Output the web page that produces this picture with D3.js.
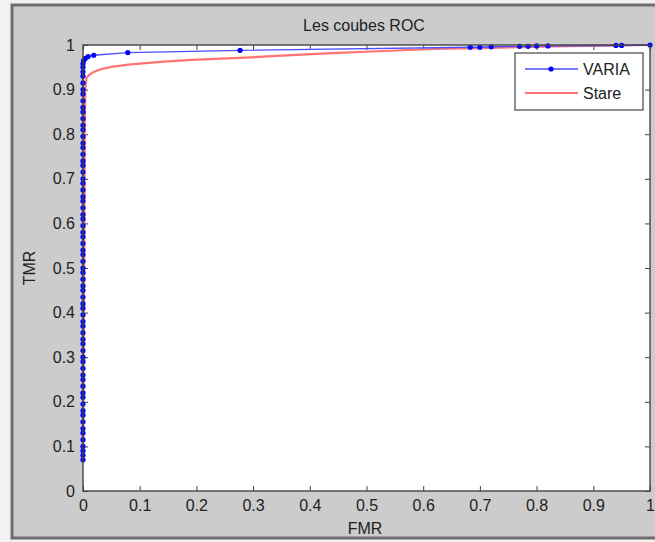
<!DOCTYPE html>
<html>
<head>
<meta charset="utf-8">
<script src="https://cdn.jsdelivr.net/npm/d3@7"></script>
<style>
  body { margin: 0; background: #f2f2f2; }
  text { font-family: "Liberation Sans", Arial, sans-serif; fill: #222; }
</style>
</head>
<body>
<div id="chart"></div>
<script>
// VARIA points lying on FMR = 0
let variaVerticalTMR = [0.07, 0.08, 0.09, 0.1, 0.115, 0.13, 0.14, 0.155, 0.17, 0.18, 0.195, 0.21, 0.22, 0.235,
  0.25, 0.26, 0.275, 0.29, 0.3, 0.315, 0.33, 0.34, 0.355, 0.37, 0.38, 0.395, 0.41, 0.42, 0.435, 0.45,
  0.46, 0.475, 0.49, 0.5, 0.515, 0.53, 0.54, 0.555, 0.57, 0.58, 0.595, 0.61, 0.62, 0.635, 0.65, 0.66,
  0.675, 0.69, 0.7, 0.715, 0.73, 0.74, 0.755, 0.77, 0.78, 0.795, 0.81, 0.82, 0.835, 0.85, 0.86, 0.875,
  0.89, 0.9, 0.915, 0.93, 0.94, 0.95, 0.958]
// VARIA points after it leaves the axis
let variaTailFMR = [0.001, 0.004, 0.009, 0.019, 0.079, 0.277, 0.683, 0.7, 0.72, 0.77, 0.785, 0.8, 0.82, 0.94, 0.95, 1]
let variaTailTMR = [0.965, 0.97, 0.974, 0.977, 0.983, 0.988, 0.995, 0.995, 0.996, 0.997, 0.997, 0.998, 0.998, 0.999, 0.999, 1]

let stareFMR = [0, 0.002, 0.003, 0.004, 0.006, 0.01, 0.018, 0.03, 0.05, 0.08, 0.136, 0.2, 0.277, 0.35, 0.44, 0.52, 0.617, 0.7, 0.79, 0.88, 1]
let stareTMR = [0.07, 0.5, 0.8, 0.9, 0.925, 0.932, 0.939, 0.945, 0.951, 0.956, 0.962, 0.967, 0.971, 0.976, 0.982, 0.986, 0.991, 0.993, 0.996, 0.998, 1]

let ticks = [0, 0.1, 0.2, 0.3, 0.4, 0.5, 0.6, 0.7, 0.8, 0.9, 1]

let svgWidth = 655
let svgHeight = 542

const svg = d3.select("#chart").append("svg")
    .attr("width", svgWidth)
    .attr("height", svgHeight)

// figure window
svg.append("rect")
    .attr("x", 12).attr("y", 5)
    .attr("width", 660).attr("height", 533)
    .attr("fill", "#cccccc")
    .attr("stroke", "#6e6e6e")
    .attr("stroke-width", 3)

const plotLeft = 83, plotRight = 650, plotTop = 45, plotBottom = 491

const x = d3.scaleLinear().domain([0, 1]).range([plotLeft, plotRight])
const y = d3.scaleLinear().domain([0, 1]).range([plotBottom, plotTop])

svg.append("rect")
    .attr("x", plotLeft).attr("y", plotTop)
    .attr("width", plotRight - plotLeft).attr("height", plotBottom - plotTop)
    .attr("fill", "white")

// axes with inward ticks on all four sides
function styleAxis(g) {
    g.select(".domain").remove()
    g.selectAll("line").attr("stroke", "#444")
    g.selectAll("text").attr("font-size", 16).attr("fill", "#333")
        .style("font-family", "'Liberation Sans', Arial, sans-serif")
}

svg.append("g")
    .attr("transform", `translate(0,${plotBottom})`)
    .call(d3.axisBottom(x).tickValues(ticks).tickFormat(d3.format("")).tickSizeInner(-5).tickPadding(9))
    .call(styleAxis)

svg.append("g")
    .attr("transform", `translate(${plotLeft},0)`)
    .call(d3.axisLeft(y).tickValues(ticks).tickFormat(d3.format("")).tickSizeInner(-5).tickPadding(8))
    .call(styleAxis)

svg.append("g")
    .attr("transform", `translate(0,${plotTop})`)
    .call(d3.axisTop(x).tickValues(ticks).tickFormat("").tickSizeInner(-5))
    .call(styleAxis)

svg.append("g")
    .attr("transform", `translate(${plotRight},0)`)
    .call(d3.axisRight(y).tickValues(ticks).tickFormat("").tickSizeInner(-5))
    .call(styleAxis)

let stare = stareFMR.map((d, i) => [d, stareTMR[i]])
let varia = variaVerticalTMR.map(d => [0, d])
    .concat(variaTailFMR.map((d, i) => [d, variaTailTMR[i]]))

const line = d3.line().x(d => x(d[0])).y(d => y(d[1]))

svg.append("path")
    .datum(stare)
    .attr("d", line)
    .attr("fill", "none")
    .attr("stroke", "#ff7373")
    .attr("stroke-width", 2.2)

svg.append("path")
    .datum(varia)
    .attr("d", line)
    .attr("fill", "none")
    .attr("stroke", "#4d4dff")
    .attr("stroke-width", 1.4)

svg.append("g")
    .selectAll("circle")
    .data(varia)
    .enter()
    .append("circle")
    .attr("cx", d => x(d[0]))
    .attr("cy", d => y(d[1]))
    .attr("r", 2.6)
    .attr("fill", "#0000ff")

// box outline
svg.append("rect")
    .attr("x", plotLeft).attr("y", plotTop)
    .attr("width", plotRight - plotLeft).attr("height", plotBottom - plotTop)
    .attr("fill", "none")
    .attr("stroke", "#444")
    .attr("stroke-width", 1.4)

// legend
const lg = svg.append("g")
lg.append("rect")
    .attr("x", 515).attr("y", 53)
    .attr("width", 128).attr("height", 57)
    .attr("fill", "white")
    .attr("stroke", "#444")
    .attr("stroke-width", 1.2)
lg.append("line")
    .attr("x1", 525).attr("x2", 578).attr("y1", 69).attr("y2", 69)
    .attr("stroke", "#4d4dff").attr("stroke-width", 1.4)
lg.append("circle")
    .attr("cx", 551).attr("cy", 69).attr("r", 2.6).attr("fill", "#0000ff")
lg.append("text").attr("x", 583).attr("y", 75).attr("font-size", 16).text("VARIA")
lg.append("line")
    .attr("x1", 525).attr("x2", 578).attr("y1", 93).attr("y2", 93)
    .attr("stroke", "#ff7373").attr("stroke-width", 2.2)
lg.append("text").attr("x", 583).attr("y", 99).attr("font-size", 16).text("Stare")

// titles
svg.append("text")
    .attr("x", 364).attr("y", 31)
    .attr("text-anchor", "middle")
    .attr("font-size", 16)
    .text("Les coubes ROC")

svg.append("text")
    .attr("x", 365).attr("y", 534)
    .attr("text-anchor", "middle")
    .attr("font-size", 16)
    .text("FMR")

svg.append("text")
    .attr("transform", "translate(35,268) rotate(-90)")
    .attr("text-anchor", "middle")
    .attr("font-size", 16)
    .text("TMR")
</script>
</body>
</html>
